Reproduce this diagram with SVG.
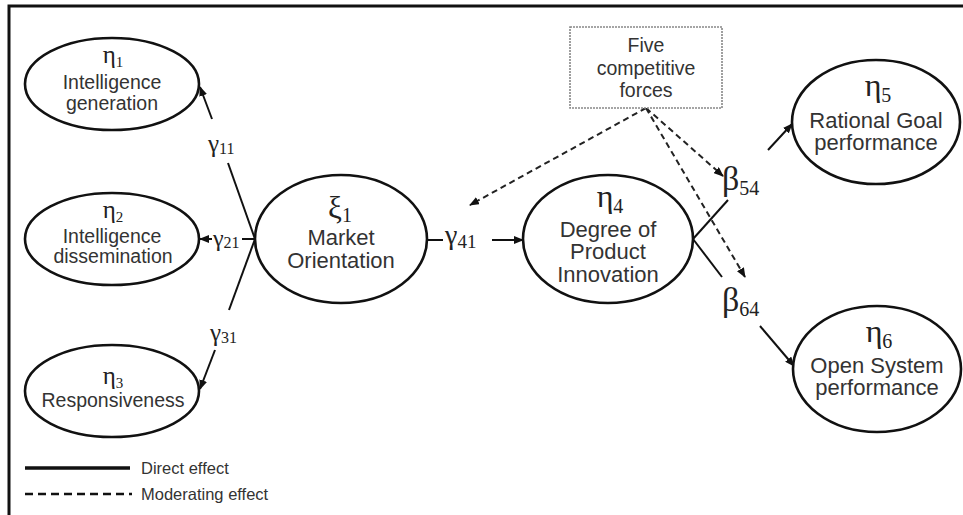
<svg xmlns="http://www.w3.org/2000/svg" width="963" height="515" viewBox="0 0 963 515">
  <style>
    .node { fill: #fff; stroke: #111; stroke-width: 2.6; }
    .lbl { font-family: "Liberation Sans", Arial, sans-serif; fill: #333; text-anchor: middle; }
    .sm { font-size: 19.5px; }
    .lg { font-size: 22px; }
    .gk { font-family: "Liberation Serif", "Times New Roman", serif; fill: #222; text-anchor: middle; }
    .gs { font-family: "Liberation Serif", "Times New Roman", serif; fill: #222; }
    .direct { stroke: #111; stroke-width: 2; fill: none; }
    .arrow { marker-end: url(#head); }
    .mod { stroke: #222; stroke-width: 2; stroke-dasharray: 6 4; fill: none; marker-end: url(#head); }
    .legend { font-family: "Liberation Sans", Arial, sans-serif; font-size: 16.5px; fill: #333; }
  </style>
  <defs>
    <marker id="head" markerWidth="10" markerHeight="8" refX="9" refY="4" orient="auto" markerUnits="userSpaceOnUse">
      <path d="M0,0 L10,4 L0,8 Z" fill="#111"/>
    </marker>
  </defs>

  <rect width="963" height="515" fill="#fff"/>
  <!-- frame -->
  <path d="M9,515 V6 H963" fill="none" stroke="#111" stroke-width="3"/>

  <!-- connectors -->
  <g id="connectors">
    <!-- gamma 11 -->
    <line class="direct" x1="255" y1="239" x2="228" y2="163"/>
    <line class="direct arrow" x1="212" y1="119" x2="200" y2="87"/>
    <!-- gamma 21 -->
    <line class="direct" x1="255" y1="239" x2="242" y2="239"/>
    <line class="direct arrow" x1="212" y1="239" x2="200" y2="239"/>
    <!-- gamma 31 -->
    <line class="direct" x1="255" y1="239" x2="229" y2="310"/>
    <line class="direct arrow" x1="215" y1="350" x2="200" y2="389"/>
    <!-- gamma 41 -->
    <line class="direct" x1="427" y1="240" x2="443" y2="240"/>
    <line class="direct arrow" x1="492" y1="240" x2="523" y2="240"/>
    <!-- beta 54 -->
    <line class="direct" x1="693" y1="239" x2="728" y2="200"/>
    <line class="direct arrow" x1="768" y1="150" x2="792" y2="124"/>
    <!-- beta 64 -->
    <line class="direct" x1="693" y1="239" x2="722" y2="277"/>
    <line class="direct arrow" x1="760" y1="326" x2="794" y2="366"/>
    <!-- moderating paths -->
    <line class="mod" x1="646" y1="108" x2="470" y2="205"/>
    <line class="mod" x1="646" y1="108" x2="723" y2="176"/>
    <line class="mod" x1="646" y1="108" x2="745" y2="277"/>

    <!-- path coefficients -->
    <text class="gs" x="208" y="152" font-size="25">γ<tspan font-size="16" dy="2">11</tspan></text>
    <text class="gs" x="213" y="246" font-size="24">γ<tspan font-size="16" dy="2">21</tspan></text>
    <text class="gs" x="210" y="341" font-size="25">γ<tspan font-size="16" dy="2">31</tspan></text>
    <text class="gs" x="445" y="244" font-size="28">γ<tspan font-size="19" dy="4">41</tspan></text>
    <text class="gs" x="722" y="190" font-size="34">β<tspan font-size="20" dy="5">54</tspan></text>
    <text class="gs" x="722" y="311" font-size="34">β<tspan font-size="20" dy="5">64</tspan></text>
  </g>

  <g id="eta1">
    <ellipse class="node" cx="112" cy="84" rx="87" ry="46"/>
    <text class="gk" x="113" y="63" font-size="25">η<tspan font-size="15" dy="4">1</tspan></text>
    <text class="lbl sm" x="112" y="89">Intelligence</text>
    <text class="lbl sm" x="112" y="110">generation</text>
  </g>

  <g id="eta2">
    <ellipse class="node" cx="112" cy="239" rx="87" ry="46"/>
    <text class="gk" x="113" y="218" font-size="25">η<tspan font-size="15" dy="4">2</tspan></text>
    <text class="lbl sm" x="112" y="243">Intelligence</text>
    <text class="lbl sm" x="113" y="263">dissemination</text>
  </g>

  <g id="eta3">
    <ellipse class="node" cx="112" cy="391" rx="87" ry="46"/>
    <text class="gk" x="113" y="384" font-size="25">η<tspan font-size="15" dy="4">3</tspan></text>
    <text class="lbl sm" x="113" y="407">Responsiveness</text>
  </g>

  <g id="xi1">
    <ellipse class="node" cx="341" cy="239" rx="86" ry="64"/>
    <text class="gk" x="340" y="218" font-size="31">ξ<tspan font-size="20" dy="4">1</tspan></text>
    <text class="lbl lg" x="341" y="245">Market</text>
    <text class="lbl lg" x="341" y="268">Orientation</text>
  </g>

  <g id="eta4">
    <ellipse class="node" cx="608" cy="239" rx="85" ry="64"/>
    <text class="gk" x="610" y="207" font-size="32">η<tspan font-size="20" dy="6">4</tspan></text>
    <text class="lbl lg" x="608" y="237">Degree of</text>
    <text class="lbl lg" x="608" y="259">Product</text>
    <text class="lbl lg" x="608" y="282">Innovation</text>
  </g>

  <g id="forces">
    <rect x="570" y="27" width="152" height="81" fill="#fff" stroke="#888" stroke-width="1.6" stroke-dasharray="2 1"/>
    <text class="lbl sm" x="646" y="52">Five</text>
    <text class="lbl sm" x="646" y="75">competitive</text>
    <text class="lbl sm" x="646" y="97">forces</text>
  </g>

  <g id="eta5">
    <ellipse class="node" cx="876" cy="122" rx="84" ry="62"/>
    <text class="gk" x="878" y="96" font-size="32">η<tspan font-size="20" dy="6">5</tspan></text>
    <text class="lbl lg" x="876" y="128">Rational Goal</text>
    <text class="lbl lg" x="876" y="150">performance</text>
  </g>

  <g id="eta6">
    <ellipse class="node" cx="877" cy="369" rx="84" ry="63"/>
    <text class="gk" x="879" y="342" font-size="32">η<tspan font-size="20" dy="6">6</tspan></text>
    <text class="lbl lg" x="877" y="373">Open System</text>
    <text class="lbl lg" x="877" y="395">performance</text>
  </g>

  <g id="legend">
    <line x1="25" y1="468" x2="130" y2="468" stroke="#111" stroke-width="3.5"/>
    <text class="legend" x="141" y="474">Direct effect</text>
    <line x1="25" y1="494" x2="132" y2="494" stroke="#111" stroke-width="2.5" stroke-dasharray="8 5"/>
    <text class="legend" x="141" y="500">Moderating effect</text>
  </g>
</svg>
